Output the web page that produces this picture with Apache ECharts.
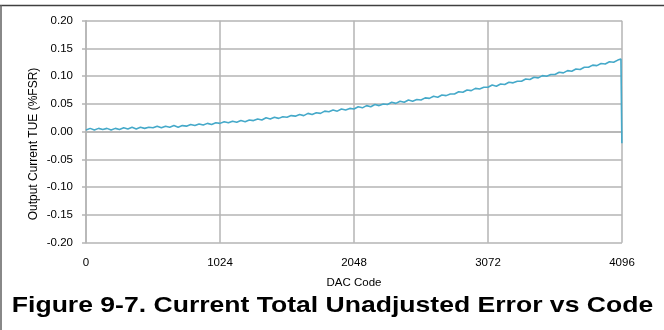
<!DOCTYPE html>
<html>
<head>
<meta charset="utf-8">
<script src="https://cdn.jsdelivr.net/npm/echarts@6/dist/echarts.min.js"></script>
<style>
html,body{margin:0;padding:0;background:#fff;}
#c{width:664px;height:330px;}
</style>
</head>
<body>
<div id="c"></div>
<script>
// DAC codes sampled every 32 codes, plus the final codes
const codes = [];
for (let c = 0; c <= 4064; c += 32) codes.push(c);
codes.push(4088, 4095);

// Output current TUE (%FSR)
const tue = [
  0.003,0.006,0.003,0.006,0.004,0.006,0.003,0.006,
  0.004,0.007,0.005,0.008,0.005,0.008,0.006,0.008,
  0.007,0.010,0.007,0.010,0.008,0.011,0.008,0.011,
  0.010,0.013,0.011,0.014,0.012,0.015,0.013,0.016,
  0.015,0.018,0.016,0.019,0.017,0.020,0.018,0.021,
  0.020,0.023,0.021,0.025,0.023,0.026,0.024,0.027,
  0.026,0.029,0.028,0.031,0.029,0.033,0.031,0.034,
  0.033,0.037,0.036,0.039,0.037,0.041,0.039,0.042,
  0.041,0.045,0.043,0.047,0.045,0.049,0.047,0.050,
  0.049,0.053,0.051,0.055,0.053,0.057,0.055,0.058,
  0.057,0.061,0.060,0.064,0.062,0.066,0.065,0.068,
  0.068,0.072,0.071,0.075,0.074,0.078,0.077,0.080,
  0.080,0.084,0.082,0.086,0.085,0.089,0.088,0.091,
  0.091,0.095,0.094,0.098,0.097,0.101,0.100,0.103,
  0.103,0.107,0.106,0.110,0.109,0.113,0.112,0.116,
  0.116,0.120,0.119,0.123,0.122,0.126,0.125,0.129,
  0.131,-0.021
];

const yTicks = { min: -0.20, max: 0.20, step: 0.05 };
const xTicks = { min: 0, max: 4096, step: 1024 };

const titleText = 'Figure 9-7. Current Total Unadjusted Error vs Code';
const xName = 'DAC Code';
const yName = 'Output Current TUE (%FSR)';

const chart = echarts.init(document.getElementById('c'), null, { renderer: 'canvas' });
const font = '"Liberation Sans", Arial, sans-serif';
const gridColor = '#b4b4b4';

chart.setOption({
  animation: false,
  backgroundColor: '#fff',
  graphic: [
    { type: 'line', shape: { x1: 0, y1: 5.5, x2: 664, y2: 5.5 }, style: { stroke: '#404040', lineWidth: 1.5 } },
    { type: 'line', shape: { x1: 1, y1: 5, x2: 1, y2: 330 }, style: { stroke: '#606060', lineWidth: 1.5 } },
    { type: 'text', x: 332.5, y: 305.5, scaleX: 1.207,
      style: { text: titleText, x: 0, y: 0, align: 'center', verticalAlign: 'middle',
               font: 'bold 22px "Liberation Sans", Arial, sans-serif', fill: '#000' } },
    { type: 'text', x: 34, y: 144, rotation: Math.PI / 2,
      style: { text: yName, x: 0, y: 0, align: 'center', verticalAlign: 'middle',
               font: '12px "Liberation Sans", Arial, sans-serif', fill: '#000' } }
  ],
  grid: { left: 86, right: 42, top: 20.7, bottom: 87.3, containLabel: false },
  xAxis: {
    type: 'value',
    min: xTicks.min, max: xTicks.max, interval: xTicks.step,
    name: xName, nameLocation: 'middle', nameGap: 34,
    nameTextStyle: { fontFamily: font, fontSize: 11.5, color: '#000' },
    axisLine: { show: true, lineStyle: { color: gridColor, width: 1.5 } },
    axisTick: { show: false },
    axisLabel: { margin: 14, fontFamily: font, fontSize: 11.5, color: '#000',
      formatter: v => String(v) },
    splitLine: { show: true, lineStyle: { color: gridColor, width: 1.5 } }
  },
  yAxis: {
    type: 'value',
    min: yTicks.min, max: yTicks.max, interval: yTicks.step,
    axisLine: { show: true, onZero: false, lineStyle: { color: gridColor, width: 1.5 } },
    axisTick: { show: true, length: 4, lineStyle: { color: gridColor, width: 1.5 } },
    axisLabel: { margin: 13, fontFamily: font, fontSize: 11.5, color: '#000',
      formatter: v => v.toFixed(2) },
    splitLine: { show: true, lineStyle: { color: gridColor, width: 1.5 } }
  },
  series: [{
    type: 'line',
    data: codes.map((c, i) => [c, tue[i]]),
    showSymbol: false,
    symbol: 'none',
    lineStyle: { color: '#45a9c9', width: 1.6 },
    z: 3
  }]
});
</script>
</body>
</html>
